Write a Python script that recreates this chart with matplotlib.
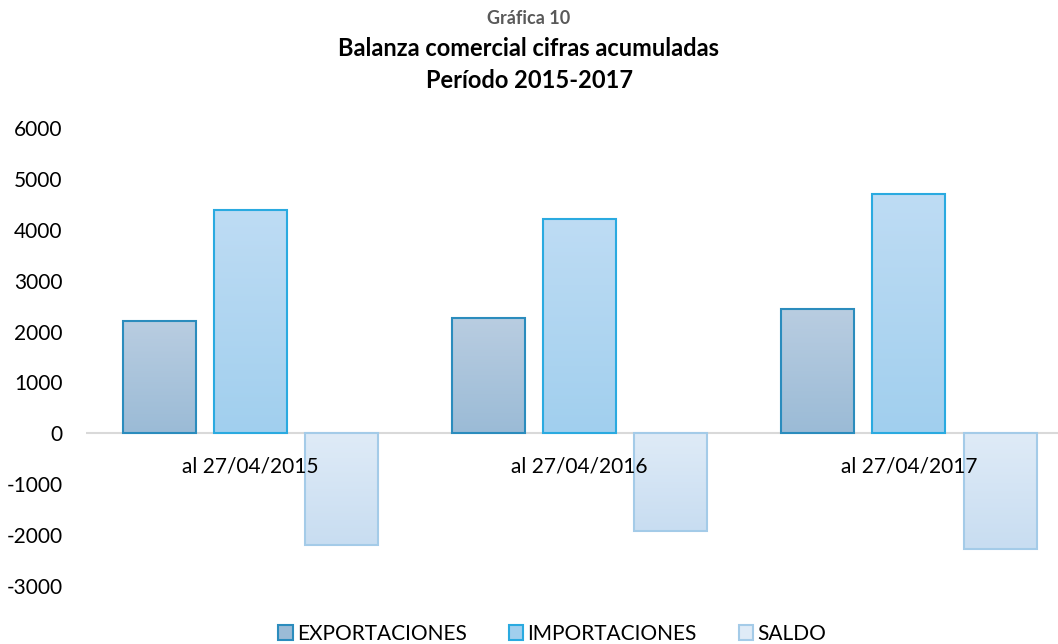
import numpy as np
import matplotlib as mpl
mpl.use('Agg')
import matplotlib.pyplot as plt
from matplotlib.colors import LinearSegmentedColormap
from matplotlib.patches import Patch

plt.rcParams['font.family'] = ['Lato', 'DejaVu Sans']
plt.rcParams['axes.unicode_minus'] = False

# datos
categorias = ['al 27/04/2015', 'al 27/04/2016', 'al 27/04/2017']
exportaciones = [2205, 2264, 2441]
importaciones = [4390, 4213, 4705]
saldo = [-2185, -1929, -2264]

series = [
    ('EXPORTACIONES', exportaciones, '#b9cde1', '#9bbbd6', '#2b8cbd'),
    ('IMPORTACIONES', importaciones, '#bedcf4', '#a1cfee', '#2aaae0'),
    ('SALDO', saldo, '#dfebf7', '#c8ddf1', '#a4cbe8'),
]

fig = plt.figure(figsize=(10.58, 6.44), dpi=100)
ax = fig.add_axes([86 / 1058, 58 / 644, 987.5 / 1058, 458 / 644])

x = np.arange(len(categorias))
ancho = 0.222
paso = 0.277
for i, (nombre, vals, c_top, c_bot, borde) in enumerate(series):
    cmap = LinearSegmentedColormap.from_list(nombre, [c_bot, c_top])
    barras = ax.bar(x + (i - 1) * paso, vals, ancho, facecolor='none',
                    edgecolor=borde, linewidth=1.5, zorder=3)
    for b in barras:
        x0, y0 = b.get_x(), b.get_y()
        w, h = b.get_width(), b.get_height()
        y_lo, y_hi = min(y0, y0 + h), max(y0, y0 + h)
        grad = np.linspace(0, 1, 100).reshape(-1, 1)
        im = ax.imshow(grad, cmap=cmap, aspect='auto', origin='lower',
                       extent=[x0, x0 + w, y_lo, y_hi], zorder=2)
        im.set_clip_path(b)

ax.set_xlim(-0.5, 2.5)
ax.set_ylim(-3000, 6000)
ax.set_yticks(range(-3000, 6001, 1000))
ax.tick_params(axis='y', length=0, pad=17, labelsize=15)
ax.set_xticks([])
for s in ax.spines.values():
    s.set_visible(False)
ax.axhline(0, color='#d9d9d9', linewidth=1.5, zorder=1)

for xi, cat in zip(x, categorias):
    ax.text(xi, -650, cat, ha='center', va='center', fontsize=15, zorder=5)

fig.text(0.5, 1 - 18 / 644, 'Gráfica 10', ha='center', va='center',
         fontsize=13, fontweight='bold', color='#595959')
fig.text(0.5, 1 - 48 / 644, 'Balanza comercial cifras acumuladas', ha='center',
         va='center', fontsize=17, fontweight='bold')
fig.text(0.5, 1 - 80 / 644, 'Período 2015-2017', ha='center', va='center',
         fontsize=17, fontweight='bold')

handles = [Patch(facecolor=(c_top if n == 'SALDO' else c_bot), edgecolor=b, linewidth=1.5, label=n)
           for n, _, c_top, c_bot, b in series]
fig.legend(handles=handles, loc='center', bbox_to_anchor=(0.522, 1 - 634 / 644),
           ncol=3, frameon=False, fontsize=15, handlelength=0.7, handleheight=0.7,
           handletextpad=0.2, columnspacing=2.0)

fig.savefig('out.png', dpi=100)
